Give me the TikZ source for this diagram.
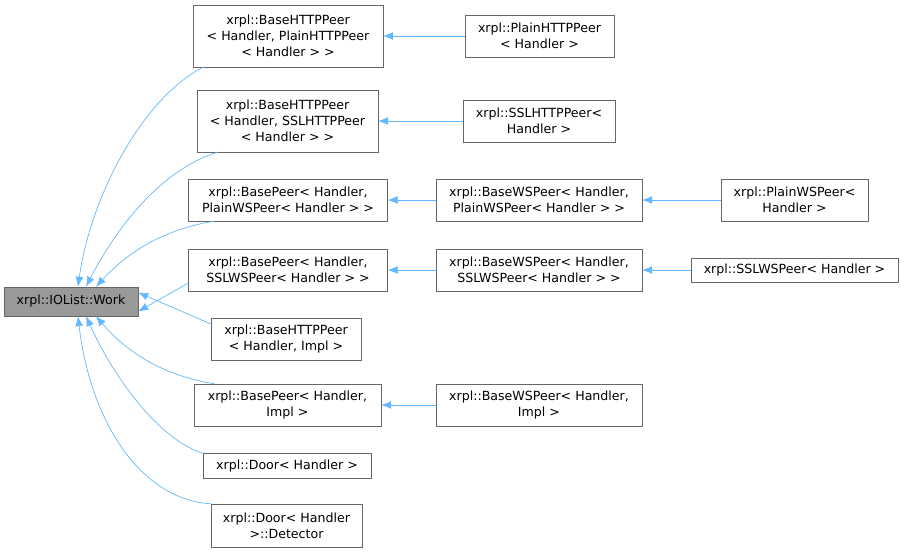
\documentclass[tikz,border=0pt]{standalone}
\usepackage{fontspec}
\setmainfont{DejaVu Sans}
\usetikzlibrary{arrows.meta}
\definecolor{edge}{HTML}{63B8FF}
\definecolor{bord}{HTML}{666666}
\begin{document}
\begin{tikzpicture}[x=1pt,y=-1pt,
  cls/.style={draw=bord,fill=white,inner sep=0pt,align=center,font=\fontsize{12.6}{16}\selectfont},
  inh/.style={draw=edge,line width=0.7pt,{Latex[length=10pt,width=8pt,fill=edge]}-},
]
\useasboundingbox (0,0) rectangle (904,555);
\node[cls,fill={rgb,255:red,153;green,153;blue,153},minimum width=134pt,minimum height=29pt] (w) at (71,301.5) {xrpl::IOList::Work};
\node[cls,minimum width=190pt,minimum height=62pt] (n1) at (288,36) {xrpl::BaseHTTPPeer\\< Handler, PlainHTTPPeer\\< Handler > >};
\node[cls,minimum width=149pt,minimum height=42pt] (n2) at (539.5,36) {xrpl::PlainHTTPPeer\\< Handler >};
\node[cls,minimum width=181pt,minimum height=62pt] (n3) at (287.5,121) {xrpl::BaseHTTPPeer\\< Handler, SSLHTTPPeer\\< Handler > >};
\node[cls,minimum width=152pt,minimum height=42pt] (n4) at (539,121) {xrpl::SSLHTTPPeer<\\Handler >};
\node[cls,minimum width=199pt,minimum height=42pt] (n5) at (288,200) {xrpl::BasePeer< Handler,\\PlainWSPeer< Handler > >};
\node[cls,minimum width=206pt,minimum height=42pt] (n6) at (539,200) {xrpl::BaseWSPeer< Handler,\\PlainWSPeer< Handler > >};
\node[cls,minimum width=147pt,minimum height=42pt] (n7) at (794.5,200) {xrpl::PlainWSPeer<\\Handler >};
\node[cls,minimum width=199pt,minimum height=42pt] (n8) at (288,270) {xrpl::BasePeer< Handler,\\SSLWSPeer< Handler > >};
\node[cls,minimum width=206pt,minimum height=42pt] (n9) at (539,270) {xrpl::BaseWSPeer< Handler,\\SSLWSPeer< Handler > >};
\node[cls,minimum width=207pt,minimum height=24pt] (n10) at (794.5,270) {xrpl::SSLWSPeer< Handler >};
\node[cls,minimum width=150pt,minimum height=42pt] (n11) at (286,339) {xrpl::BaseHTTPPeer\\< Handler, Impl >};
\node[cls,minimum width=187pt,minimum height=42pt] (n12) at (287.5,405) {xrpl::BasePeer< Handler,\\Impl >};
\node[cls,minimum width=206pt,minimum height=42pt] (n13) at (539,405) {xrpl::BaseWSPeer< Handler,\\Impl >};
\node[cls,minimum width=168pt,minimum height=25pt] (n14) at (287,466) {xrpl::Door< Handler >};
\node[cls,minimum width=151pt,minimum height=43pt] (n15) at (286.5,525.5) {xrpl::Door< Handler\\>::Detector};
\draw[inh] (n1) -- (n2);
\draw[inh] (n3) -- (n4);
\draw[inh] (n5) -- (n6);
\draw[inh] (n6) -- (n7);
\draw[inh] (n8) -- (n9);
\draw[inh] (n9) -- (n10);
\draw[inh] (n12) -- (n13);
\draw[inh] ([xshift=7pt]w.north) .. controls (90,200) and (140,100) .. ([xshift=-95pt+10pt]n1.south);
\draw[inh] ([xshift=15pt]w.north) .. controls (115,230) and (160,170) .. ([xshift=-90pt+20pt]n3.south);
\draw[inh] ([xshift=25pt]w.north) .. controls (125,255) and (160,230) .. ([xshift=-99pt+25pt]n5.south);
\draw[inh] ([yshift=-10pt]w.east) -- (n8.south west |- 0,283);
\draw[inh] ([yshift=9pt]w.east) -- (n11.north west |- 0,324);
\draw[inh] ([xshift=25pt]w.south) .. controls (125,350) and (160,375) .. ([xshift=-93pt+20pt]n12.north);
\draw[inh] ([xshift=15pt]w.south) .. controls (115,380) and (160,440) .. ([xshift=-84pt]n14.north);
\draw[inh] ([xshift=7pt]w.south) .. controls (90,420) and (140,500) .. ([xshift=-75pt]n15.north);
\end{tikzpicture}
\end{document}
